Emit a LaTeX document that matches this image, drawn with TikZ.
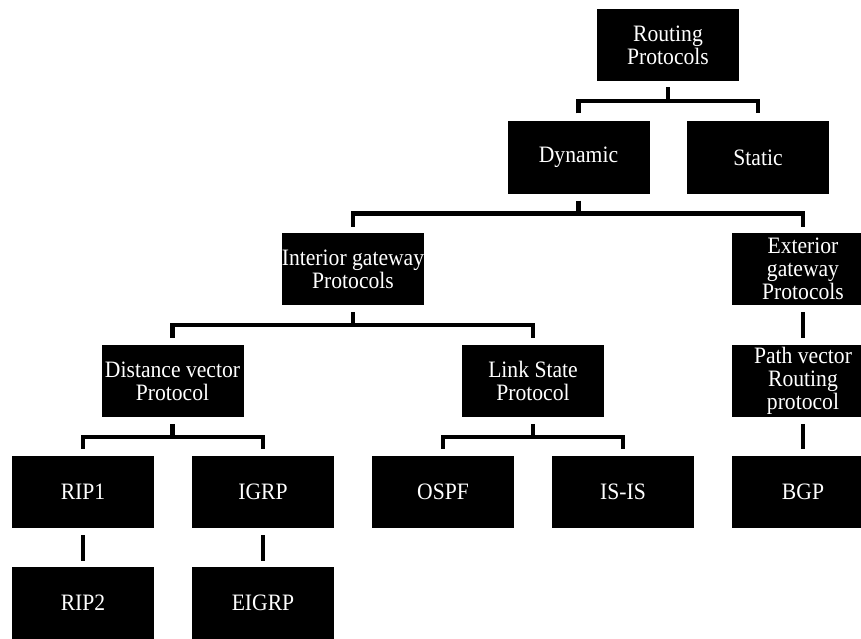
\documentclass[tikz,border=0pt]{standalone}
\usepackage{fontspec}
\setmainfont{Liberation Serif}
\newfontfamily\boxfont[FakeStretch=0.92]{Liberation Serif}
\begin{document}
\begin{tikzpicture}[x=1pt,y=-1pt,
  box/.style={fill=black, draw=none, text=white, minimum width=142pt, minimum height=72pt,
              inner sep=0pt, align=center, font=\boxfont\fontsize{23.5}{23}\selectfont},
  conn/.style={draw=black, line width=4.5pt, line join=miter}]
\clip (0,0) rectangle (861,639);
\fill[white] (0,0) rectangle (861,639);

% boxes
\node[box] (root)   at (668,45)    {Routing\\Protocols};
\node[box] (dyn)    at (578.5,157.5) {Dynamic};
\node[box] (static) at (758,157.5) {Static};
\node[box] (igp)    at (353,269)   {Interior gateway\\Protocols};
\node[box] (egp)    at (803,269)   {Exterior\\gateway\\Protocols};
\node[box] (dv)     at (172.5,381) {Distance vector\\Protocol};
\node[box] (ls)     at (533,381)   {Link State\\Protocol};
\node[box] (pv)     at (803,381)   {Path vector\\Routing\\protocol};
\node[box] (rip1)   at (83,492)    {RIP1};
\node[box] (igrp)   at (263,492)   {IGRP};
\node[box] (ospf)   at (443,492)   {OSPF};
\node[box] (isis)   at (623,492)   {IS-IS};
\node[box] (bgp)    at (803,492)   {BGP};
\node[box] (rip2)   at (83,603)    {RIP2};
\node[box] (eigrp)  at (263,603)   {EIGRP};

% bracket connectors
\draw[conn] ([yshift=-6pt]root.south) -- ([yshift=-20pt]root.south);
\draw[conn] ([yshift=8pt]dyn.north) |- ([yshift=-20pt]root.south) -| ([yshift=8pt]static.north);

\draw[conn] ([yshift=-7pt]dyn.south) -- ([yshift=-20pt]dyn.south);
\draw[conn] ([yshift=6pt]igp.north) |- ([yshift=-20pt]dyn.south) -| ([yshift=6pt]egp.north);

\draw[conn] ([yshift=-7pt]igp.south) -- ([yshift=-20pt]igp.south);
\draw[conn] ([yshift=7pt]dv.north) |- ([yshift=-20pt]igp.south) -| ([yshift=7pt]ls.north);

\draw[conn] ([yshift=-7pt]dv.south) -- ([yshift=-20pt]dv.south);
\draw[conn] ([yshift=7pt]rip1.north) |- ([yshift=-20pt]dv.south) -| ([yshift=7pt]igrp.north);

\draw[conn] ([yshift=-7pt]ls.south) -- ([yshift=-20pt]ls.south);
\draw[conn] ([yshift=7pt]ospf.north) |- ([yshift=-20pt]ls.south) -| ([yshift=7pt]isis.north);

% straight connectors
\draw[conn] ([yshift=-7pt]egp.south) -- ([yshift=7pt]pv.north);
\draw[conn] ([yshift=-7pt]pv.south) -- ([yshift=7pt]bgp.north);
\draw[conn] ([yshift=-7pt]rip1.south) -- ([yshift=6pt]rip2.north);
\draw[conn] ([yshift=-7pt]igrp.south) -- ([yshift=6pt]eigrp.north);
\end{tikzpicture}
\end{document}
